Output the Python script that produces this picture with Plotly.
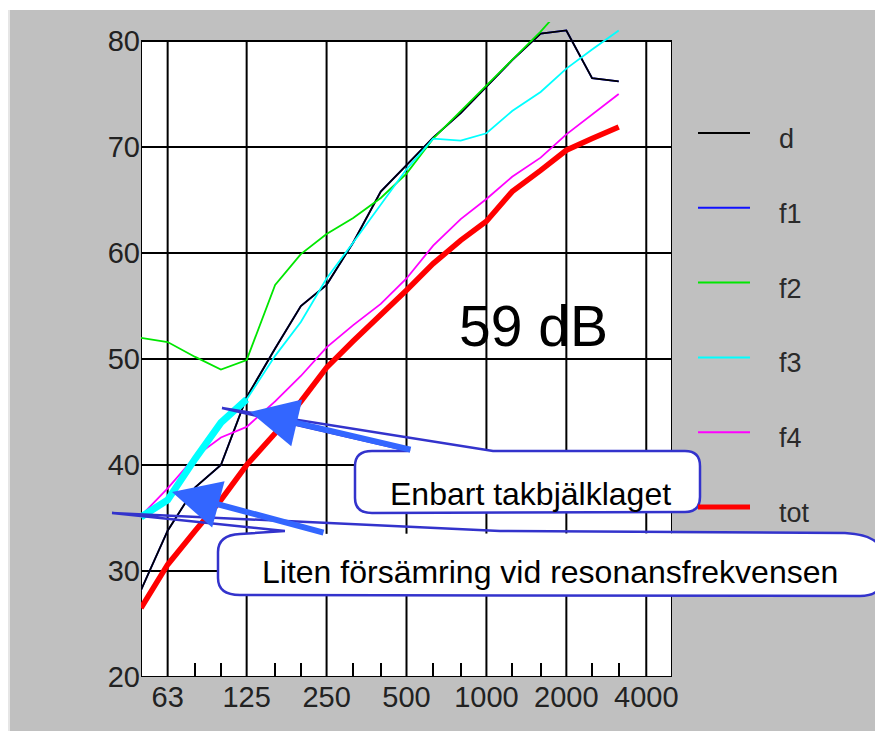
import math
import plotly.graph_objects as go

# ---------------- data (third-octave bands, dB) ----------------
freqs = [50, 63, 80, 100, 125, 160, 200, 250, 315, 400, 500, 630, 800, 1000,
         1250, 1600, 2000, 2500, 3150]
d   = [28.2, 33.8, 37.9, 40.0, 46.4, 51.0, 55.0, 57.0, 61.0, 65.8, 68.3, 70.9,
       73.2, 75.7, 78.2, 80.7, 81.0, 76.5, 76.2]
f1  = [28.2, 33.8, 37.9, 40.0, 46.4, 51.0, 55.0, 57.0, 61.0, 65.8, 68.3, 70.9,
       73.2, 75.7, 78.2, 80.7, 81.0, 76.5, 76.2]
f2  = [52.0, 51.6, 50.2, 49.0, 49.9, 57.0, 59.9, 61.8, 63.3, 65.2, 67.5, 70.8,
       73.4, 75.8, 78.3, 80.9, 83.6]
f3  = [35.1, 36.7, 40.6, 44.0, 46.2, 50.3, 53.5, 57.6, 61.0, 64.6, 67.9, 70.8,
       70.6, 71.3, 73.4, 75.2, 77.4, 79.2, 81.0]
f4  = [35.2, 37.8, 40.8, 42.6, 43.6, 46.0, 48.4, 51.1, 53.2, 55.2, 57.6, 60.7,
       63.2, 65.1, 67.2, 69.0, 71.2, 73.1, 75.0]
tot = [26.5, 30.6, 33.8, 36.7, 40.0, 43.0, 46.0, 49.2, 51.7, 54.1, 56.5, 59.0,
       61.2, 63.0, 65.8, 67.8, 69.7, 70.8, 71.9]

series_names  = ["d", "f1", "f2", "f3", "f4", "tot"]
series_values = [d, f1, f2, f3, f4, tot]
series_colors = ["#000000", "#1010ff", "#00e600", "#00ffff", "#ff00ff", "#ff0000"]
series_widths = [1.8, 1.8, 1.8, 1.8, 1.8, 5.5]
draw_order    = ["f1", "d", "f2", "f3", "f4", "tot"]

highlight_f3 = [50, 63, 80, 100, 125]     # thick f3 segment
octave_ticks = [63, 125, 250, 500, 1000, 2000, 4000]
octave_labels = ["63", "125", "250", "500", "1000", "2000", "4000"]
minor_ticks = [80, 100, 160, 200, 315, 400, 630, 800, 1250, 1600, 2500, 3150]
y_ticks = [20, 30, 40, 50, 60, 70, 80]

big_label = "59 dB"
note1 = "Enbart takbjälklaget"
note2 = "Liten försämring vid resonansfrekvensen"

# ---------------- layout geometry (page pixels) ----------------
OFF = 8                      # default body margin of the html page
W, H = 883, 731              # figure overflows the viewport by OFF (clipped)
L, R, T, B = 141, 672, 22, 677      # plot area in page pixels
GRAY = "#c0c0c0"
FONT = "Liberation Sans, Arial, sans-serif"


def px(x):
    return (x - L) / (R - L)


def py(y):
    return (B - y) / (B - T)


def path(cmds):
    out = []
    for c in cmds:
        if c[0] in ("M", "L"):
            out.append(f"{c[0]} {px(c[1]):.5f},{py(c[2]):.5f}")
        elif c[0] == "Q":
            out.append(f"Q {px(c[1]):.5f},{py(c[2]):.5f} {px(c[3]):.5f},{py(c[4]):.5f}")
        elif c[0] == "Z":
            out.append("Z")
    return " ".join(out)


fig = go.Figure()
lookup = dict(zip(series_names, zip(series_values, series_colors, series_widths)))
for name in draw_order:
    vals, col, wid = lookup[name]
    fig.add_trace(go.Scatter(x=freqs[:len(vals)], y=vals, mode="lines", name=name,
                             line=dict(color=col, width=wid), showlegend=False))
# highlighted low-frequency part of f3
nh = len(highlight_f3)
fig.add_trace(go.Scatter(x=highlight_f3, y=f3[:nh], mode="lines",
                         line=dict(color="#00ffff", width=7), showlegend=False))

shapes = []
# white plotting field
shapes.append(dict(type="rect", xref="x", yref="y", x0=50, x1=5000, y0=20, y1=80,
                   fillcolor="white", line=dict(width=0), layer="below"))
# vertical grid lines
for f in octave_ticks:
    shapes.append(dict(type="line", xref="x", yref="y", x0=f, x1=f, y0=20, y1=80,
                       line=dict(color="black", width=2), layer="between"))
# frame
shapes.append(dict(type="rect", xref="x", yref="y", x0=50, x1=5000, y0=20, y1=80,
                   line=dict(color="black", width=2), layer="between"))
# white screenshot margin (top strip) and light window edge
shapes.append(dict(type="rect", xref="paper", yref="paper", x0=px(0), x1=px(890),
                   y0=py(10), y1=py(0), fillcolor="white", line=dict(width=0), layer="above"))
shapes.append(dict(type="line", xref="paper", yref="paper", x0=px(9), x1=px(9),
                   y0=py(10), y1=py(740), line=dict(color="#e6e6e6", width=2), layer="above"))

BL = "#3333cc"
# bubble 1 : Enbart takbjälklaget
b1_fill = [("M", 372, 451), ("L", 685, 451), ("Q", 700, 451, 700, 466), ("L", 700, 497),
           ("Q", 700, 512, 685, 512), ("L", 372, 513), ("Q", 355, 513, 355, 498),
           ("L", 355, 466), ("Q", 355, 451, 372, 451), ("Z",)]
b1_line = [("M", 410, 451), ("L", 222, 408), ("L", 493, 451), ("L", 685, 451),
           ("Q", 700, 451, 700, 466), ("L", 700, 497), ("Q", 700, 512, 685, 512),
           ("L", 372, 513), ("Q", 355, 513, 355, 498), ("L", 355, 466),
           ("Q", 355, 451, 372, 451), ("L", 410, 451)]
# bubble 2 : Liten försämring ...
b2_fill = [("M", 240, 534), ("L", 845, 533), ("Q", 882, 535, 882, 555), ("L", 882, 578),
           ("Q", 882, 596, 860, 596), ("L", 240, 595), ("Q", 218, 595, 218, 578),
           ("L", 218, 552), ("Q", 218, 535, 240, 534), ("Z",)]
b2_line = [("M", 285, 531), ("L", 112, 513), ("L", 500, 531), ("L", 845, 533),
           ("Q", 882, 535, 882, 555), ("L", 882, 578), ("Q", 882, 596, 860, 596),
           ("L", 240, 595), ("Q", 218, 595, 218, 578), ("L", 218, 552),
           ("Q", 218, 535, 240, 534), ("L", 285, 531)]
for fp, lp in ((b1_fill, b1_line), (b2_fill, b2_line)):
    shapes.append(dict(type="path", xref="paper", yref="paper", path=path(fp),
                       fillcolor="white", line=dict(width=0), layer="above"))
    shapes.append(dict(type="path", xref="paper", yref="paper", path=path(lp),
                       fillcolor="rgba(0,0,0,0)", line=dict(color=BL, width=2.5),
                       layer="above"))

# manual legend
leg_y0, leg_dy = 133, 74.8
annotations = []
for i, (name, col, wid) in enumerate(zip(series_names, series_colors, series_widths)):
    yy = leg_y0 + i * leg_dy
    shapes.append(dict(type="line", xref="paper", yref="paper", x0=px(698), x1=px(750),
                       y0=py(yy), y1=py(yy), line=dict(color=col, width=2 if wid < 3 else 5),
                       layer="above"))
    annotations.append(dict(x=px(777), y=py(yy + 6), xref="paper", yref="paper",
                            text=name, showarrow=False, xanchor="left", yanchor="middle",
                            font=dict(family=FONT, size=27, color="#2a2a2a")))

annotations += [
    dict(x=px(533), y=py(326), xref="paper", yref="paper", text=big_label, showarrow=False,
         xanchor="center", yanchor="middle", font=dict(family=FONT, size=57, color="black")),
    dict(x=px(530), y=py(494), xref="paper", yref="paper", text=note1, showarrow=False,
         xanchor="center", yanchor="middle", font=dict(family=FONT, size=32, color="black")),
    dict(x=px(550), y=py(572), xref="paper", yref="paper", text=note2, showarrow=False,
         xanchor="center", yanchor="middle", font=dict(family=FONT, size=32, color="black")),
    # thick arrows
    dict(x=px(250), y=py(412), xref="paper", yref="paper", text="", showarrow=True,
         ax=162, ay=38, arrowhead=2, arrowsize=1.6, arrowwidth=6, arrowcolor="#3366ff"),
    dict(x=px(172), y=py(492), xref="paper", yref="paper", text="", showarrow=True,
         ax=153, ay=41, arrowhead=2, arrowsize=1.6, arrowwidth=6, arrowcolor="#3366ff"),
]

fig.update_layout(
    width=W, height=H, autosize=False,
    margin=dict(l=L - OFF, r=W - (R - OFF), t=T - OFF, b=H - (B - OFF), pad=0),
    paper_bgcolor=GRAY, plot_bgcolor=GRAY,
    showlegend=False,
    shapes=shapes, annotations=annotations,
    font=dict(family=FONT, color="#222222"),
    xaxis=dict(type="log", range=[math.log10(50), math.log10(5000)],
               tickmode="array", tickvals=octave_ticks, ticktext=octave_labels,
               ticks="", showgrid=False, zeroline=False, showline=False,
               tickfont=dict(family=FONT, size=29, color="#222222"),
               minor=dict(tickmode="array", tickvals=minor_ticks, ticks="inside",
                          ticklen=14, tickwidth=2, tickcolor="black", showgrid=False)),
    yaxis=dict(range=[20, 81.8], tickmode="array", tickvals=y_ticks, ticks="",
               showgrid=True, gridcolor="black", gridwidth=2, zeroline=False,
               showline=False, tickfont=dict(family=FONT, size=29, color="#222222")),
)

fig.write_html("out.html")
